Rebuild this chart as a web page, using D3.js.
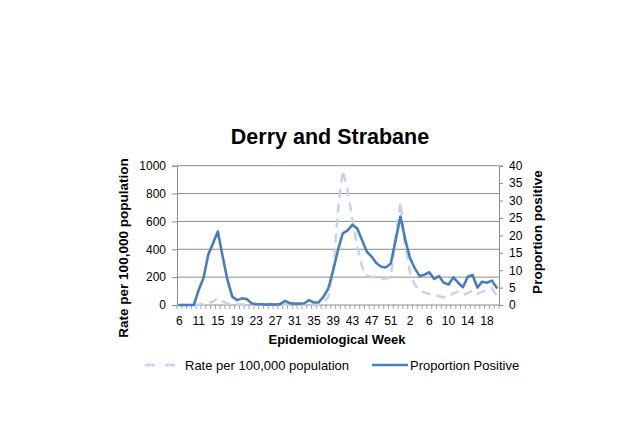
<!DOCTYPE html>
<html>
<head>
<meta charset="utf-8">
<script src="https://cdn.jsdelivr.net/npm/d3@7"></script>
<style>
  html, body { margin: 0; padding: 0; background: #ffffff; }
  svg { display: block; }
  text { font-family: "Liberation Sans", Arial, sans-serif; fill: #000; }
</style>
</head>
<body>
<svg id="chart" width="640" height="427"></svg>
<script>
// ---- Data ----
const weeks = [6, 8, 9, 10, 11, 12, 13, 14, 15, 16, 17, 18, 19, 20, 21, 22, 23, 24, 25, 26, 27, 28, 29, 30,
  31, 32, 33, 34, 35, 36, 37, 38, 39, 40, 41, 42, 43, 44, 45, 46, 47, 48, 49, 50, 51, 52, 53,
  1, 2, 3, 4, 5, 6, 7, 8, 9, 10, 11, 12, 13, 14, 15, 16, 17, 18, 19, 20];

const proportionPositive = [0, 0, 0, 0, 4.3, 7.7, 14.4, 17.7, 21.1, 13.9, 7.2, 2.4, 1.4, 1.9, 1.7, 0.5,
  0.2, 0.2, 0.1, 0.2, 0.1, 0.3, 1.2, 0.5, 0.4, 0.4, 0.5, 1.4, 0.7, 0.8, 2.4, 4.8, 10, 15.8, 20.6, 21.4,
  23.0, 22.0, 18.7, 15.3, 13.9, 12.0, 11.0, 10.8, 12.0, 18.7, 25.4, 18.7, 13.4, 10.5, 8.3, 8.7, 9.4,
  7.5, 8.3, 6.4, 5.9, 7.9, 6.4, 5.1, 8.1, 8.6, 5.0, 6.7, 6.4, 7.0, 5.0];

const ratePer100k = [0, 0, 0, 0, 3, 10, 12, 25, 50, 25, 10, 5, 3, 3, 3, 2, 2, 2, 2, 2, 2, 2, 3, 3,
  3, 3, 3, 4, 5, 6, 15, 60, 250, 680, 965, 826, 610, 420, 275, 215, 200, 200, 190, 190, 200, 490,
  740, 420, 230, 145, 110, 90, 80, 72, 65, 55, 60, 85, 95, 72, 85, 103, 80, 95, 112, 120, 72];

const leftTicks = [0, 200, 400, 600, 800, 1000];
const rightTicks = [0, 5, 10, 15, 20, 25, 30, 35, 40];

const titleText = "Derry and Strabane";
const xTitle = "Epidemiological Week";
const yLeftTitle = "Rate per 100,000 population";
const yRightTitle = "Proportion positive";
const legendRate = "Rate per 100,000 population";
const legendProp = "Proportion Positive";

// ---- Layout ----
const plot = { left: 177, right: 499, top: 165.7, bottom: 305 };
const solidColor = "#4A7EBB";
const dashColor = "#C3D5EA";
const axisColor = "#8C8C8C";

const svg = d3.select("#chart");

const x = d3.scaleBand().domain(d3.range(weeks.length)).range([plot.left, plot.right]).padding(0);
const cx = i => x(i) + x.bandwidth() / 2;
const yL = d3.scaleLinear().domain([0, 1000]).range([plot.bottom, plot.top]);
const yR = d3.scaleLinear().domain([0, 40]).range([plot.bottom, plot.top]);

// gridlines
svg.append("g").selectAll("line").data(leftTicks.filter(d => d > 0)).join("line")
  .attr("x1", plot.left).attr("x2", plot.right)
  .attr("y1", d => yL(d)).attr("y2", d => yL(d))
  .attr("stroke", axisColor).attr("stroke-width", 1);

// left axis
const gL = svg.append("g").attr("transform", `translate(${plot.left},0)`)
  .call(d3.axisLeft(yL).tickValues(leftTicks).tickSize(5).tickPadding(6).tickFormat(d3.format("d")));
gL.select(".domain").attr("stroke", axisColor);
gL.selectAll(".tick line").attr("stroke", axisColor);
gL.selectAll("text").style("font-size", "12px").attr("fill", "#000")
  .style("font-family", "'Liberation Sans', Arial, sans-serif");

// right axis
const gR = svg.append("g").attr("transform", `translate(${plot.right},0)`)
  .call(d3.axisRight(yR).tickValues(rightTicks).tickSize(4).tickPadding(6));
gR.select(".domain").attr("stroke", axisColor);
gR.selectAll(".tick line").attr("stroke", axisColor);
gR.selectAll("text").style("font-size", "12px").attr("fill", "#000")
  .style("font-family", "'Liberation Sans', Arial, sans-serif");

// x axis line and boundary ticks
svg.append("line").attr("x1", plot.left).attr("x2", plot.right)
  .attr("y1", plot.bottom).attr("y2", plot.bottom).attr("stroke", axisColor);
const boundaries = d3.range(weeks.length + 1).map(i => plot.left + i * x.bandwidth());
svg.append("g").selectAll("line").data(boundaries).join("line")
  .attr("x1", d => d).attr("x2", d => d)
  .attr("y1", plot.bottom).attr("y2", plot.bottom + 4)
  .attr("stroke", axisColor).attr("stroke-width", 0.8);

// x labels every 4th category
svg.append("g").selectAll("text").data(d3.range(0, weeks.length, 4)).join("text")
  .attr("x", i => cx(i)).attr("y", 324.5)
  .attr("text-anchor", "middle").style("font-size", "12px")
  .text(i => weeks[i]);

// lines
const rateLine = d3.line().x((d, i) => cx(i)).y(d => yL(d));
const propLine = d3.line().x((d, i) => cx(i)).y(d => yR(d));

svg.append("path").datum(ratePer100k).attr("d", rateLine)
  .attr("fill", "none").attr("stroke", dashColor).attr("stroke-width", 2.5)
  .attr("stroke-dasharray", "9,6").attr("stroke-linejoin", "round");

svg.append("path").datum(proportionPositive).attr("d", propLine)
  .attr("fill", "none").attr("stroke", solidColor).attr("stroke-width", 2.6)
  .attr("stroke-linejoin", "round").attr("stroke-linecap", "round");

// titles
svg.append("text").attr("x", 330).attr("y", 144).attr("text-anchor", "middle")
  .style("font-size", "21.5px").style("font-weight", "bold").text(titleText);

svg.append("text").attr("x", 337).attr("y", 344).attr("text-anchor", "middle")
  .style("font-size", "13px").style("font-weight", "bold").text(xTitle);

svg.append("text").attr("transform", "translate(127.5,248) rotate(-90)").attr("text-anchor", "middle")
  .style("font-size", "13.5px").style("font-weight", "bold").text(yLeftTitle);

svg.append("text").attr("transform", "translate(542,232) rotate(-90)").attr("text-anchor", "middle")
  .style("font-size", "13.5px").style("font-weight", "bold").text(yRightTitle);

// legend
const lg = svg.append("g");
lg.append("line").attr("x1", 145).attr("x2", 176).attr("y1", 365).attr("y2", 365)
  .attr("stroke", dashColor).attr("stroke-width", 2.5).attr("stroke-dasharray", "10,10");
lg.append("text").attr("x", 185).attr("y", 369.5).style("font-size", "13px").text(legendRate);
lg.append("line").attr("x1", 372).attr("x2", 408).attr("y1", 365).attr("y2", 365)
  .attr("stroke", solidColor).attr("stroke-width", 2.6);
lg.append("text").attr("x", 410).attr("y", 369.5).style("font-size", "13px").text(legendProp);
</script>
</body>
</html>
